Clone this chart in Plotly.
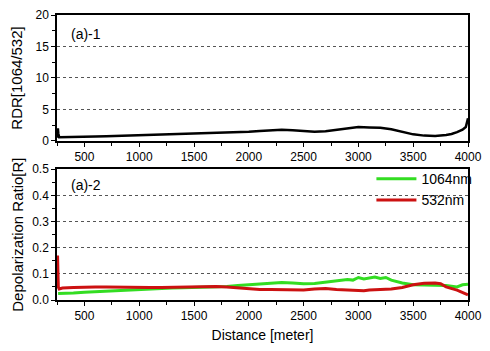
import plotly.graph_objects as go

# ---- data ----
rdr_x = [255, 258, 262, 270, 300, 400, 500, 600, 700, 800, 900, 1000, 1100, 1200, 1300, 1400,
         1500, 1600, 1700, 1800, 1900, 2000, 2100, 2200, 2300, 2400, 2500, 2600, 2700, 2800,
         2900, 3000, 3100, 3200, 3300, 3400, 3500, 3600, 3700, 3800, 3850, 3900, 3950, 3980, 4000]
rdr_y = [0.5, 2.0, 1.2, 0.6, 0.6, 0.62, 0.65, 0.7, 0.75, 0.8, 0.85, 0.9, 0.95, 1.0, 1.05, 1.1,
         1.15, 1.2, 1.25, 1.3, 1.35, 1.45, 1.6, 1.75, 1.8, 1.7, 1.6, 1.45, 1.55, 1.75,
         2.0, 2.2, 2.15, 2.1, 1.85, 1.5, 1.05, 0.85, 0.8, 0.95, 1.1, 1.4, 1.8, 2.2, 3.6]

g_x = [260, 300, 400, 500, 600, 700, 800, 900, 1000, 1100, 1200, 1300, 1400, 1500, 1600, 1700,
       1800, 1900, 2000, 2100, 2200, 2300, 2400, 2500, 2600, 2700, 2800, 2900, 2950, 3000, 3050,
       3100, 3150, 3200, 3250, 3300, 3400, 3500, 3600, 3700, 3800, 3900, 3950, 4000]
g_y = [0.025, 0.025, 0.027, 0.030, 0.032, 0.035, 0.037, 0.040, 0.042, 0.044, 0.045, 0.046,
       0.047, 0.048, 0.050, 0.050, 0.052, 0.055, 0.058, 0.062, 0.066, 0.067, 0.065, 0.062,
       0.063, 0.068, 0.072, 0.078, 0.076, 0.086, 0.080, 0.084, 0.088, 0.082, 0.086, 0.076,
       0.065, 0.058, 0.058, 0.056, 0.055, 0.050, 0.058, 0.060]

r_x = [255, 262, 270, 300, 400, 500, 600, 700, 800, 900, 1000, 1100, 1200, 1300, 1400, 1500,
       1600, 1700, 1800, 1900, 2000, 2100, 2200, 2300, 2400, 2500, 2600, 2700, 2800, 2900,
       3000, 3050, 3100, 3200, 3300, 3400, 3500, 3600, 3700, 3750, 3800, 3900, 4000]
r_y = [0.17, 0.050, 0.042, 0.046, 0.048, 0.050, 0.050, 0.050, 0.049, 0.049, 0.048, 0.048,
       0.048, 0.049, 0.049, 0.050, 0.051, 0.052, 0.050, 0.047, 0.044, 0.040, 0.040, 0.039,
       0.038, 0.038, 0.042, 0.044, 0.040, 0.038, 0.038, 0.035, 0.038, 0.040, 0.042, 0.048,
       0.058, 0.064, 0.065, 0.062, 0.050, 0.038, 0.020]

FONT = "Liberation Sans, Arial, sans-serif"

fig = go.Figure()
fig.add_trace(go.Scatter(x=rdr_x, y=rdr_y, mode="lines", line=dict(color="black", width=2.5),
                         showlegend=False, xaxis="x", yaxis="y"))
fig.add_trace(go.Scatter(x=g_x, y=g_y, mode="lines", line=dict(color="#33dd22", width=3),
                         name="1064nm", xaxis="x2", yaxis="y2"))
fig.add_trace(go.Scatter(x=r_x, y=r_y, mode="lines", line=dict(color="#cc1111", width=3),
                         name="532nm", xaxis="x2", yaxis="y2"))

xcommon = dict(range=[250, 4000], dtick=500, tick0=0, ticks="outside", ticklen=4,
               showline=True, linecolor="black", linewidth=1.5, mirror=True,
               showgrid=False, zeroline=False,
               minor=dict(ticks="outside", ticklen=3, dtick=250, tick0=0, tickcolor="black"),
               tickfont=dict(size=12, color="black", family=FONT), tickcolor="black")
ycommon = dict(ticks="outside", ticklen=4, showline=True, linecolor="black", linewidth=1.5,
               mirror=True, showgrid=True, gridcolor="#555", gridwidth=0.8, griddash="dot",
               zeroline=False, tickcolor="black",
               tickfont=dict(size=12, color="black", family=FONT))

fig.update_layout(
    width=490, height=351, margin=dict(l=57, r=17, t=8, b=51),
    paper_bgcolor="white", plot_bgcolor="white",
    font=dict(family=FONT, color="black"),
    xaxis=dict(domain=[0, 1], anchor="y", **xcommon),
    yaxis=dict(domain=[0.558, 1], anchor="x", range=[0, 20], dtick=5,
               minor=dict(ticks="outside", ticklen=3, dtick=2.5, tickcolor="black"),
               title=dict(text="RDR[1064/532]", font=dict(size=15), standoff=9), **ycommon),
    xaxis2=dict(domain=[0, 1], anchor="y2",
                title=dict(text="Distance [meter]", font=dict(size=14), standoff=8), **xcommon),
    yaxis2=dict(domain=[0, 0.459], anchor="x2", range=[0, 0.5], dtick=0.1, tickformat=".1f",
                minor=dict(ticks="outside", ticklen=3, dtick=0.05, tickcolor="black"),
                title=dict(text="Depolarization Ratio[R]", font=dict(size=15), standoff=5),
                **ycommon),
    legend=dict(x=0.765, y=0.48, xanchor="left", yanchor="top", bgcolor="rgba(0,0,0,0)",
                font=dict(size=14, family=FONT), itemwidth=40, tracegroupgap=0),
    annotations=[
        dict(text="(a)-1", x=0.03, y=0.935, xref="paper", yref="paper", showarrow=False,
             xanchor="left", yanchor="middle", font=dict(size=14)),
        dict(text="(a)-2", x=0.03, y=0.404, xref="paper", yref="paper", showarrow=False,
             xanchor="left", yanchor="middle", font=dict(size=14)),
    ],
)

fig.write_html("out.html")
